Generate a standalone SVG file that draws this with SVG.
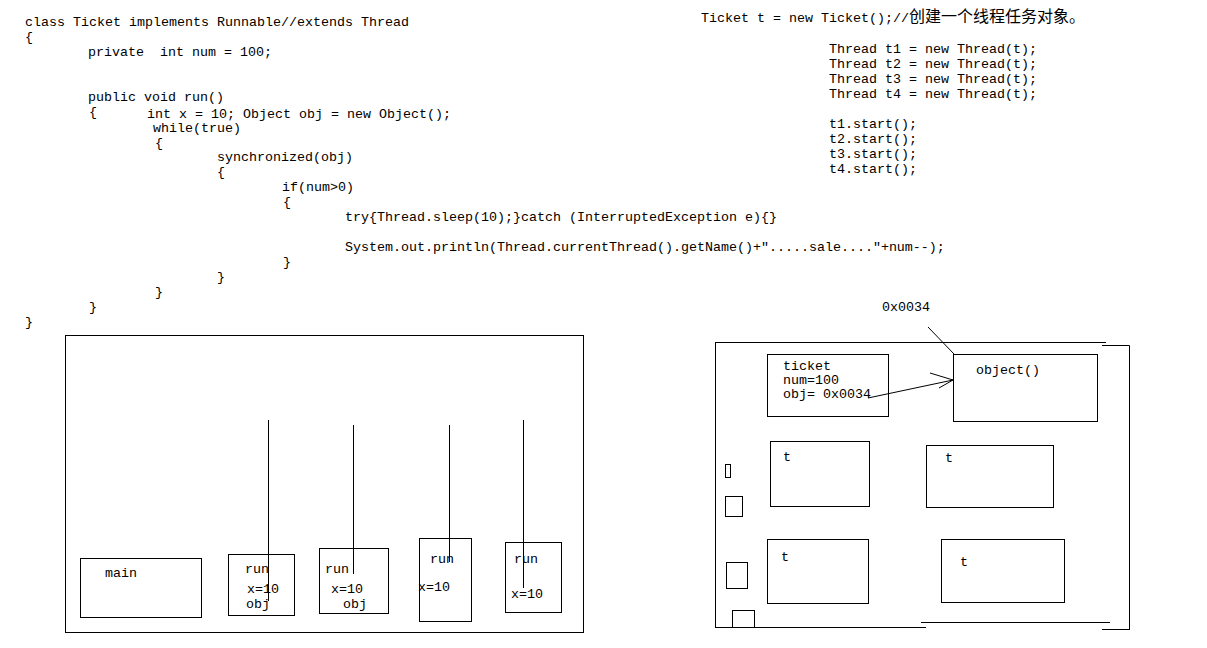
<svg xmlns="http://www.w3.org/2000/svg" width="1207" height="648" viewBox="0 0 1207 648">
<style>
text{font-family:"Liberation Mono","DejaVu Sans Mono",monospace;font-size:13.33px;fill:#000;white-space:pre}
.cjk{font-family:"Noto Sans CJK SC",sans-serif;font-size:16px}
.b{fill:none;stroke:#000;stroke-width:1}
.l{fill:none;stroke:#000;stroke-width:1}
</style>
<rect width="1207" height="648" fill="#fff"/>
<g id="code-left">
<text x="25" y="26">class Ticket implements Runnable//extends Thread</text>
<text x="25" y="41">{</text>
<text x="88" y="56">private  int num = 100;</text>
<text x="88" y="101">public void run()</text>
<text x="89" y="116">{</text>
<text x="147" y="118">int x = 10; Object obj = new Object();</text>
<text x="153" y="132">while(true)</text>
<text x="155" y="147">{</text>
<text x="217" y="161">synchronized(obj)</text>
<text x="217" y="176">{</text>
<text x="282" y="191">if(num&gt;0)</text>
<text x="283" y="206">{</text>
<text x="345" y="221">try{Thread.sleep(10);}catch (InterruptedException e){}</text>
<text x="345" y="251">System.out.println(Thread.currentThread().getName()+".....sale...."+num--);</text>
<text x="283" y="266">}</text>
<text x="217" y="281">}</text>
<text x="155" y="296">}</text>
<text x="89" y="311">}</text>
<text x="25" y="326">}</text>
</g>
<g id="code-right">
<text x="701" y="22">Ticket t = new Ticket();//<tspan class="cjk">创建一个线程任务对象。</tspan></text>
<text x="829" y="53">Thread t1 = new Thread(t);</text>
<text x="829" y="68">Thread t2 = new Thread(t);</text>
<text x="829" y="83">Thread t3 = new Thread(t);</text>
<text x="829" y="98">Thread t4 = new Thread(t);</text>
<text x="829" y="128">t1.start();</text>
<text x="829" y="143">t2.start();</text>
<text x="829" y="158">t3.start();</text>
<text x="829" y="173">t4.start();</text>
</g>
<g id="stack">
<rect class="b" x="65.5" y="335.5" width="518" height="297"/>
</g>
<g id="main">
<rect class="b" x="80.5" y="558.5" width="121" height="59"/>
<text x="105" y="577">main</text>
</g>
<g id="run1">
<rect class="b" x="228.5" y="554.5" width="66" height="61"/>
<text x="245" y="573">run</text>
<text x="247" y="593">x=10</text>
<text x="246" y="608">obj</text>
</g>
<g id="run2">
<rect class="b" x="319.5" y="548.5" width="69" height="65"/>
<text x="325" y="573">run</text>
<text x="331" y="593">x=10</text>
<text x="343" y="608">obj</text>
</g>
<g id="run3">
<rect class="b" x="419.5" y="538.5" width="52" height="83"/>
<text x="430" y="563">run</text>
<text x="418" y="591">x=10</text>
</g>
<g id="run4">
<rect class="b" x="505.5" y="542.5" width="56" height="70"/>
<text x="514" y="563">run</text>
<text x="511" y="598">x=10</text>
</g>
<g id="heap">
<path class="l" d="M715.5 342.5 H1106 M715.5 342 V627 M715 627.5 H926 M921 622.5 H1110 M1102 345.5 H1129.5 V629 M1102 629.5 H1130"/>
</g>
<g id="ticket">
<rect class="b" x="767.5" y="354.5" width="121" height="62"/>
<text x="783" y="370">ticket</text>
<text x="783" y="384">num=100</text>
<text x="783" y="398">obj= 0x0034</text>
</g>
<g id="object">
<rect class="b" x="953.5" y="354.5" width="144" height="67"/>
<text x="976" y="374">object()</text>
</g>
<g id="addr">
<text x="882" y="311">0x0034</text>
</g>
<g id="t1"><rect class="b" x="770.5" y="441.5" width="99" height="65"/><text x="783" y="461">t</text></g>
<g id="t2"><rect class="b" x="926.5" y="445.5" width="127" height="62"/><text x="945" y="462">t</text></g>
<g id="t3"><rect class="b" x="767.5" y="539.5" width="101" height="64"/><text x="781" y="561">t</text></g>
<g id="t4"><rect class="b" x="941.5" y="539.5" width="123" height="63"/><text x="960" y="566">t</text></g>
<g id="small-boxes">
<rect class="b" x="725.5" y="464.5" width="5" height="13"/>
<rect class="b" x="725.5" y="496.5" width="17" height="20"/>
<rect class="b" x="726.5" y="562.5" width="21" height="26"/>
<rect class="b" x="732.5" y="610.5" width="22" height="17"/>
</g>
<g id="connectors">
<path class="l" d="M268.5 420 V601"/>
<path class="l" d="M353.5 425 V574"/>
<path class="l" d="M449.5 425 V562"/>
<path class="l" d="M523.5 420 V588"/>
<path class="l" d="M868 398 L953 380 M930 373 L953 380 L939 388"/>
<path class="l" d="M928 327 L954 354"/>
</g>
</svg>
